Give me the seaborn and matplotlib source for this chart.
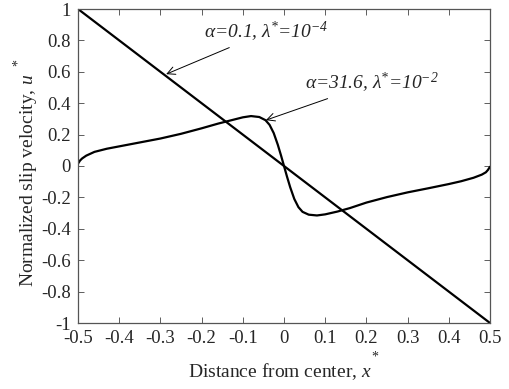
import numpy as np
import pandas as pd
import matplotlib
matplotlib.use("Agg")
import matplotlib.pyplot as plt
import seaborn as sns

# alpha=0.1, lambda*=1e-4 : straight line
x_lin = [-0.5, 0.5]
u_lin = [1.0, -1.0]

# alpha=31.6, lambda*=1e-2
x_ring = [-0.5, -0.495, -0.49, -0.48, -0.46, -0.43, -0.40, -0.35, -0.30, -0.25,
          -0.20, -0.16, -0.13, -0.10, -0.08, -0.06, -0.045, -0.035, -0.025,
          -0.015, -0.007, 0.0, 0.007, 0.015, 0.025, 0.035, 0.045, 0.06, 0.08,
          0.10, 0.13, 0.16, 0.20, 0.25, 0.30, 0.35, 0.40, 0.43, 0.46, 0.48,
          0.49, 0.495, 0.5]
u_ring = [0.015, 0.035, 0.048, 0.066, 0.09, 0.11, 0.125, 0.15, 0.175, 0.205,
          0.24, 0.27, 0.29, 0.31, 0.318, 0.312, 0.292, 0.262, 0.21, 0.135,
          0.065, 0.0, -0.065, -0.135, -0.21, -0.262, -0.292, -0.31, -0.315,
          -0.308, -0.29, -0.268, -0.233, -0.198, -0.168, -0.142, -0.115,
          -0.097, -0.075, -0.055, -0.04, -0.025, -0.005]

xticks = [-0.5, -0.4, -0.3, -0.2, -0.1, 0, 0.1, 0.2, 0.3, 0.4, 0.5]
xtick_labels = ["-0.5", "-0.4", "-0.3", "-0.2", "-0.1", "0", "0.1", "0.2", "0.3", "0.4", "0.5"]
yticks = [1, 0.8, 0.6, 0.4, 0.2, 0, -0.2, -0.4, -0.6, -0.8, -1]
ytick_labels = ["1", "0.8", "0.6", "0.4", "0.2", "0", "-0.2", "-0.4", "-0.6", "-0.8", "-1"]

sns.set_style("ticks")
plt.rcParams["font.family"] = ["Liberation Serif", "DejaVu Serif"]
plt.rcParams["mathtext.fontset"] = "custom"
plt.rcParams["mathtext.rm"] = "Liberation Serif:italic"
plt.rcParams["mathtext.it"] = "Liberation Serif:italic"
plt.rcParams["axes.unicode_minus"] = False

fig = plt.figure(figsize=(5.09, 3.89), dpi=100)
ax = fig.add_axes([78 / 509, 1 - 323 / 389, 412 / 509, 314 / 389])

df_lin = pd.DataFrame({"x": x_lin, "u": u_lin})
df_ring = pd.DataFrame({"x": x_ring, "u": u_ring})
sns.lineplot(data=df_lin, x="x", y="u", color="black", lw=1.6, ax=ax)
sns.lineplot(data=df_ring, x="x", y="u", color="black", lw=1.6, ax=ax)

ax.set_xlim(-0.5, 0.5)
ax.set_ylim(-1, 1)
ax.set_xticks(xticks)
ax.set_xticklabels(xtick_labels, fontsize=13.5)
ax.set_yticks(yticks)
ax.set_yticklabels(ytick_labels, fontsize=13.5)
ax.set_xlabel("")
ax.set_ylabel("")
ax.tick_params(direction="in", length=4, width=0.6, color="#444444",
               top=True, right=True, pad=5)
for sp in ax.spines.values():
    sp.set_visible(True)
    sp.set_color("#555555")
    sp.set_linewidth(0.9)

# curve labels with arrows
ax.annotate("α=0.1, λ$^{*}$=10$^{-4}$",
            xy=(-0.286, 0.585), xytext=(-0.195, 0.775),
            fontsize=14, fontstyle="italic", ha="left", va="bottom",
            arrowprops=dict(arrowstyle="->", color="black", lw=0.7,
                            shrinkA=0, shrinkB=0))
ax.annotate("α=31.6, λ$^{*}$=10$^{-2}$",
            xy=(-0.044, 0.292), xytext=(0.05, 0.45),
            fontsize=14, fontstyle="italic", ha="left", va="bottom",
            arrowprops=dict(arrowstyle="->", color="black", lw=0.7,
                            shrinkA=0, shrinkB=0))

# axis labels (MATLAB style, asterisk floating above)
fig.text(280 / 509, 1 - 377 / 389, "Distance from center, $x$",
         fontsize=14, ha="center", va="baseline")
fig.text(375 / 509, 1 - 357 / 389, "*", fontsize=10, ha="center", va="center")
fig.text(39 / 509, 1 - 180 / 389, "Normalized slip velocity, $u$",
         fontsize=14, ha="right", va="center", rotation=90)
fig.text(18 / 509, 1 - 63 / 389, "*", fontsize=10, ha="center", va="center",
         rotation=90)

fig.savefig("out.png", dpi=100)
